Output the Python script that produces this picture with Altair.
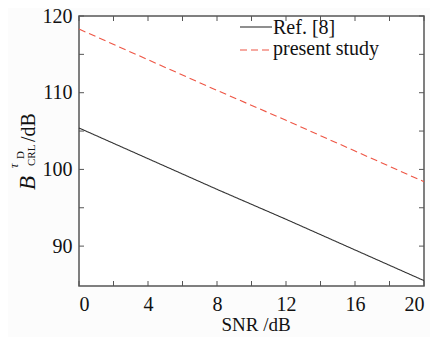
import altair as alt
import pandas as pd

# ---- data ----
snr = [0, 4, 8, 12, 16, 20]
ref8 = [105.4, 101.4, 97.4, 93.5, 89.5, 85.5]
present = [118.3, 114.3, 110.3, 106.4, 102.4, 98.4]
series_names = ["Ref. [8]", "present study"]
x_ticks = [0, 4, 8, 12, 16, 20]
x_minor = [2, 6, 10, 14, 18]
y_ticks = [90, 100, 110, 120]
y_minor = [95, 105, 115]

TOP = 8
W, H = 345, 270
FONT = "Liberation Serif, Times New Roman, DejaVu Serif, serif"
FRAME = "#555555"
BLACK = "#333333"
RED = "#ee5544"

df = pd.DataFrame({
    "snr": snr + snr,
    "val": ref8 + present,
    "series": [series_names[0]] * len(snr) + [series_names[1]] * len(snr),
})

xs = alt.Scale(domain=[0, 20], nice=False, zero=False)
ys = alt.Scale(domain=[84.8, 120], nice=False, zero=False)
AX = alt.Axis(values=x_ticks, labelFont=FONT, labelFontSize=20, labelColor="#111111",
              ticks=False, domain=False, grid=False, labelPadding=8, title=None)
AY = alt.Axis(values=y_ticks, labelFont=FONT, labelFontSize=20, labelColor="#111111",
              ticks=False, domain=False, grid=False, labelPadding=7, title=None)

lines = alt.Chart(df).mark_line(strokeWidth=1.1).encode(
    x=alt.X("snr:Q", scale=xs, axis=AX),
    y=alt.Y("val:Q", scale=ys, axis=AY),
    color=alt.Color("series:N", scale=alt.Scale(domain=series_names, range=[BLACK, RED]), legend=None),
    strokeDash=alt.StrokeDash("series:N", scale=alt.Scale(domain=series_names, range=[[1, 0], [7, 4]]), legend=None),
    detail="series:N",
)

xt = pd.DataFrame({"t": x_ticks + x_minor})
yt = pd.DataFrame({"t": y_ticks + y_minor})
TL = 5
bottom_ticks = alt.Chart(xt).mark_rule(color=FRAME, strokeWidth=1).encode(
    x=alt.X("t:Q", scale=xs, axis=AX), y=alt.value(H), y2=alt.value(H - TL))
top_ticks = alt.Chart(xt).mark_rule(color=FRAME, strokeWidth=1).encode(
    x=alt.X("t:Q", scale=xs, axis=AX), y=alt.value(0), y2=alt.value(TL))
left_ticks = alt.Chart(yt).mark_rule(color=FRAME, strokeWidth=1).encode(
    y=alt.Y("t:Q", scale=ys, axis=AY), x=alt.value(0), x2=alt.value(TL))
right_ticks = alt.Chart(yt).mark_rule(color=FRAME, strokeWidth=1).encode(
    y=alt.Y("t:Q", scale=ys, axis=AY), x=alt.value(W), x2=alt.value(W - TL))

# ---- legend (inside, top right) ----
OX, OY = 79, 8 + TOP
leg = pd.DataFrame({"label": series_names, "row": [0, 1]})
leg_black = alt.Chart(leg[leg.row == 0]).mark_rule(color=BLACK, strokeWidth=1.1).encode(
    x=alt.value(240 - OX), x2=alt.value(272 - OX), y=alt.value(27 - OY))
leg_red = alt.Chart(leg[leg.row == 1]).mark_rule(color=RED, strokeWidth=1.1, strokeDash=[7, 4]).encode(
    x=alt.value(240 - OX), x2=alt.value(272 - OX), y=alt.value(50 - OY))
leg_t1 = alt.Chart(leg[leg.row == 0]).mark_text(
    font=FONT, fontSize=20, align="left", baseline="alphabetic", color="#111111").encode(
    text="label:N", x=alt.value(273 - OX), y=alt.value(34 - OY))
leg_t2 = alt.Chart(leg[leg.row == 1]).mark_text(
    font=FONT, fontSize=20, align="left", baseline="alphabetic", color="#111111").encode(
    text="label:N", x=alt.value(273 - OX), y=alt.value(55 - OY))

# ---- axis titles ----
def txt(s, x, y, size, angle=0, style="normal", align="left"):
    return alt.Chart(pd.DataFrame({"s": [s]})).mark_text(
        font=FONT, fontSize=size, align=align, baseline="alphabetic",
        angle=angle, fontStyle=style, color="#111111").encode(
        text="s:N", x=alt.value(x - OX), y=alt.value(y - OY))

xtitle = txt("SNR /dB", 256, 331, 19, align="center")
S = 8  # shift right so the title stays inside the page
yB = txt("B", 27 + S, 190, 23, angle=270, style="italic")
yCRL = txt("CRL", 27 + S, 166, 11, angle=270)
yTau = txt("τ", 10 + S, 168, 12, angle=270, style="italic")
yD = txt("D", 16 + S, 159, 11, angle=270)
ydB = txt("/dB", 27 + S, 142, 20, angle=270)

chart = alt.layer(
    lines, bottom_ticks, top_ticks, left_ticks, right_ticks,
    leg_black, leg_red, leg_t1, leg_t2,
    xtitle, yB, yCRL, yTau, yD, ydB,
).properties(
    width=W, height=H,
    autosize=alt.AutoSizeParams(type="none"),
    padding={"left": 71, "top": TOP, "right": 6, "bottom": 329 - TOP - H},
    background="#fcfcfc",
).configure_view(
    stroke=FRAME, strokeWidth=1.5, fill="#ffffff"
)

chart.save("out.html", embed_options={"renderer": "svg", "actions": False})
